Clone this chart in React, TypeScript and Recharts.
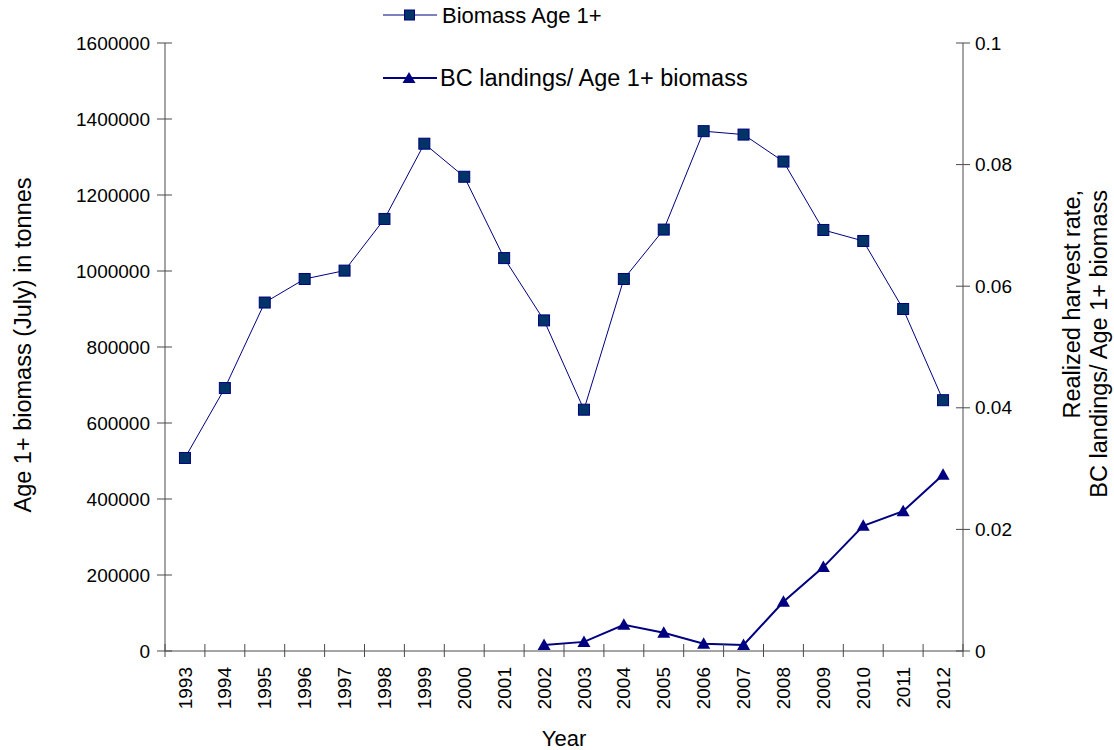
import React from "react";
import { LineChart, Line, XAxis, YAxis } from "recharts";

const years = [
  "1993", "1994", "1995", "1996", "1997", "1998", "1999", "2000", "2001", "2002",
  "2003", "2004", "2005", "2006", "2007", "2008", "2009", "2010", "2011", "2012",
];
const biomass = [
  508000, 692000, 917000, 979000, 1001000, 1137000, 1335000, 1248000, 1034000, 870000,
  635000, 979000, 1109000, 1368000, 1359000, 1288000, 1108000, 1079000, 900000, 660000,
];
const harvestRate = [
  null, null, null, null, null, null, null, null, null, 0.001,
  0.0015, 0.0043, 0.003, 0.0012, 0.001, 0.0081, 0.0138, 0.0206, 0.023, 0.029,
];
const leftTicks = [0, 200000, 400000, 600000, 800000, 1000000, 1200000, 1400000, 1600000];
const rightTicks = [0, 0.02, 0.04, 0.06, 0.08, 0.1];

const data = years.map((year, i) => ({
  year,
  biomass: biomass[i],
  rate: harvestRate[i],
}));

const FONT = '"Liberation Sans", Arial, sans-serif';
const AXIS = "#4a4a4a";
const NAVY = "#000080";
const SQUARE_FILL = "#003366";
const W = 1114;
const H = 750;
const MARGIN = { top: 43, right: 0, bottom: 0, left: 15 };
const LEFT_W = 150;
const RIGHT_W = 151;
const PLOT_W = W - MARGIN.left - MARGIN.right - LEFT_W - RIGHT_W;
const BAND = PLOT_W / years.length;

const LeftTick = (props: any) => {
  const { x, y, payload } = props;
  return (
    <g>
      <line x1={x - 8} x2={x + 7} y1={y} y2={y} stroke={AXIS} />
      <text x={x - 15} y={y} dy="0.35em" textAnchor="end" fontSize={19} fontFamily={FONT} fill="#000">
        {payload.value}
      </text>
    </g>
  );
};

const RightTick = (props: any) => {
  const { x, y, payload } = props;
  return (
    <g>
      <line x1={x - 7} x2={x + 7} y1={y} y2={y} stroke={AXIS} />
      <text x={x + 12} y={y} dy="0.35em" textAnchor="start" fontSize={19} fontFamily={FONT} fill="#000">
        {String(payload.value)}
      </text>
    </g>
  );
};

const YearTick = (props: any) => {
  const { x, y, payload, index } = props;
  const half = BAND / 2;
  const top = y + 16;
  return (
    <g>
      <line x1={x - half} x2={x - half} y1={y - 7} y2={y + 6} stroke={AXIS} />
      {index === years.length - 1 && (
        <line x1={x + half} x2={x + half} y1={y - 7} y2={y + 6} stroke={AXIS} />
      )}
      <text
        x={x}
        y={top}
        dy="0.35em"
        textAnchor="end"
        transform={`rotate(-90, ${x}, ${top})`}
        fontSize={19}
        fontFamily={FONT}
        fill="#000"
      >
        {payload.value}
      </text>
    </g>
  );
};

const SquareDot = (props: any) => {
  const { cx, cy, index } = props;
  if (cx == null || cy == null) return <g key={`s-${index}`} />;
  return (
    <rect
      key={`s-${index}`}
      x={cx - 5.5}
      y={cy - 5.5}
      width={11}
      height={11}
      fill={SQUARE_FILL}
      stroke={NAVY}
      strokeWidth={1}
    />
  );
};

const TriangleDot = (props: any) => {
  const { cx, cy, index, value } = props;
  if (cx == null || cy == null || value == null) return <g key={`t-${index}`} />;
  return (
    <polygon
      key={`t-${index}`}
      points={`${cx},${cy - 6.5} ${cx + 6.5},${cy + 5} ${cx - 6.5},${cy + 5}`}
      fill={NAVY}
    />
  );
};

const LegendOverlay = () => (
  <svg
    width={420}
    height={100}
    style={{ position: "absolute", left: 370, top: 0, overflow: "visible" }}
  >
    <line x1={13} x2={67} y1={15} y2={15} stroke={NAVY} strokeWidth={1} />
    <rect x={34.5} y={10} width={10} height={10} fill={SQUARE_FILL} stroke={NAVY} />
    <text x={72} y={15} dy="0.35em" fontSize={22} fontFamily={FONT} fill="#000">
      Biomass Age 1+
    </text>
    <line x1={13} x2={67} y1={78} y2={78} stroke={NAVY} strokeWidth={2} />
    <polygon points="39,72 45.5,83 32.5,83" fill={NAVY} />
    <text x={70} y={78} dy="0.35em" fontSize={23.5} fontFamily={FONT} fill="#000">
      BC landings/ Age 1+ biomass
    </text>
  </svg>
);

export default function App() {
  return (
    <div style={{ position: "absolute", left: 0, top: 0, width: W, height: H, background: "#fff" }}>
      <LineChart width={W} height={H} data={data} margin={MARGIN}>
        <XAxis
          dataKey="year"
          scale="band"
          interval={0}
          height={99}
          tickSize={0}
          tickMargin={0}
          tickLine={false}
          axisLine={{ stroke: AXIS }}
          tick={<YearTick />}
          label={{
            content: (p: any) => {
              const vb = p.viewBox;
              return (
                <text x={vb.x + vb.width / 2} y={vb.y + 95} textAnchor="middle" fontSize={22} fontFamily={FONT} fill="#000">
                  Year
                </text>
              );
            },
          }}
        />
        <YAxis
          yAxisId="left"
          orientation="left"
          width={LEFT_W}
          domain={[0, 1600000]}
          ticks={leftTicks}
          interval={0}
          tickSize={0}
          tickMargin={0}
          tickLine={false}
          axisLine={{ stroke: AXIS }}
          tick={<LeftTick />}
          label={{
            content: (p: any) => {
              const vb = p.viewBox;
              const cy = vb.y + vb.height / 2 - 2;
              return (
                <text x={31} y={cy} textAnchor="middle" transform={`rotate(-90, 31, ${cy})`} fontSize={23.5} fontFamily={FONT} fill="#000">
                  Age 1+ biomass (July) in tonnes
                </text>
              );
            },
          }}
        />
        <YAxis
          yAxisId="right"
          orientation="right"
          width={RIGHT_W}
          domain={[0, 0.1]}
          ticks={rightTicks}
          interval={0}
          tickSize={0}
          tickMargin={0}
          tickLine={false}
          axisLine={{ stroke: AXIS }}
          tick={<RightTick />}
          label={{
            content: (p: any) => {
              const vb = p.viewBox;
              const top = vb.y + 147;
              const x1 = vb.x + 117;
              const x2 = vb.x + 144;
              return (
                <g>
                  <text x={x1} y={top} textAnchor="end" transform={`rotate(-90, ${x1}, ${top})`} fontSize={23.5} fontFamily={FONT} fill="#000">
                    Realized harvest rate,
                  </text>
                  <text x={x2} y={top} textAnchor="end" transform={`rotate(-90, ${x2}, ${top})`} fontSize={23.5} fontFamily={FONT} fill="#000">
                    BC landings/ Age 1+ biomass
                  </text>
                </g>
              );
            },
          }}
        />
        <Line
          yAxisId="left"
          dataKey="biomass"
          stroke={NAVY}
          strokeWidth={1}
          dot={SquareDot}
          activeDot={false}
          isAnimationActive={false}
        />
        <Line
          yAxisId="right"
          dataKey="rate"
          stroke={NAVY}
          strokeWidth={2}
          dot={TriangleDot}
          activeDot={false}
          connectNulls={false}
          isAnimationActive={false}
        />
      </LineChart>
      <LegendOverlay />
    </div>
  );
}
